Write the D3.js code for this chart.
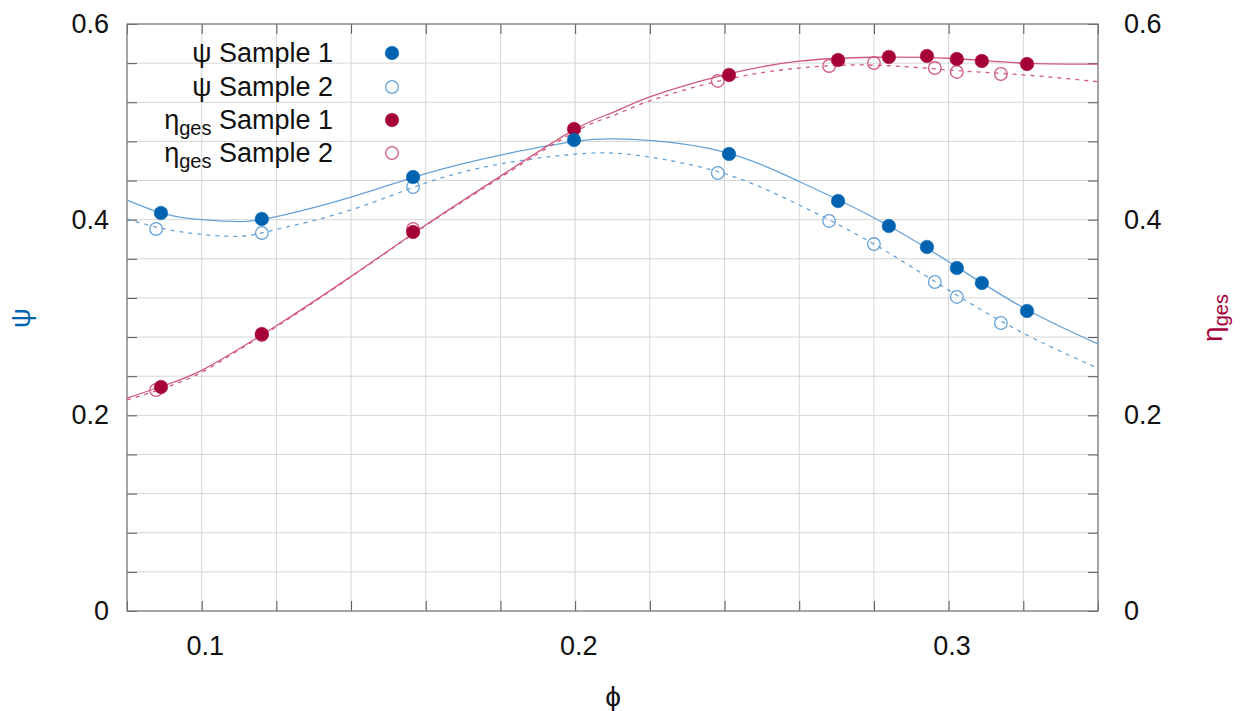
<!DOCTYPE html>
<html>
<head>
<meta charset="utf-8">
<script src="https://cdn.jsdelivr.net/npm/d3@7"></script>
<style>
  body { margin: 0; background: #fff; }
  svg { font-family: "Liberation Sans", Arial, sans-serif; }
  .grid line { stroke: #d6d6d6; stroke-width: 1; }
  .ticks line { stroke: #555; stroke-width: 1; }
  .ticks path, .labels path { display: none; }
  .labels text { font-size: 27px; fill: #111; }
  .labels line { display: none; }
</style>
</head>
<body>
<script>
(function(){

    //measured points (phi, value)
    var psi1X = [0.0891, 0.1161, 0.1566, 0.1997, 0.2412, 0.2704, 0.2840, 0.2942, 0.3022, 0.3089, 0.3210];
    var psi1Y = [0.4068, 0.4007, 0.4436, 0.4814, 0.4671, 0.4191, 0.3935, 0.3721, 0.3506, 0.3353, 0.3067];
    var psi2X = [0.0878, 0.1161, 0.1566, 0.2382, 0.2680, 0.2800, 0.2963, 0.3022, 0.3140];
    var psi2Y = [0.3905, 0.3864, 0.4334, 0.4477, 0.3987, 0.3751, 0.3363, 0.3210, 0.2944];
    var eta1X = psi1X;
    var eta1Y = [0.2290, 0.2831, 0.3874, 0.4927, 0.5479, 0.5632, 0.5663, 0.5673, 0.5642, 0.5622, 0.5591];
    var eta2X = psi2X;
    var eta2Y = [0.2259, 0.2821, 0.3905, 0.5418, 0.5571, 0.5601, 0.5550, 0.5510, 0.5489];

    //fitted curves
    var fitX = [0.08, 0.09, 0.10, 0.11, 0.12, 0.14, 0.16, 0.18, 0.20, 0.21, 0.22, 0.24, 0.26, 0.28, 0.30, 0.32, 0.34];
    var psi1Fit = [0.420, 0.406, 0.400, 0.398, 0.403, 0.423, 0.447, 0.466, 0.480, 0.4825, 0.481, 0.469, 0.439, 0.402, 0.357, 0.310, 0.273];
    var psi2Fit = [0.4007, 0.3905, 0.385, 0.383, 0.390, 0.410, 0.4375, 0.457, 0.467, 0.468, 0.464, 0.447, 0.415, 0.375, 0.328, 0.284, 0.248];
    var eta1Fit = [0.2177, 0.2305, 0.246, 0.268, 0.2915, 0.342, 0.3945, 0.4445, 0.4925, 0.5095, 0.5255, 0.548, 0.562, 0.566, 0.565, 0.560, 0.559];
    var eta2Fit = [0.2157, 0.228, 0.244, 0.267, 0.2905, 0.3415, 0.394, 0.443, 0.490, 0.506, 0.5215, 0.543, 0.555, 0.558, 0.553, 0.548, 0.541];

    //ticks
    var xGrid = [0.08, 0.10, 0.12, 0.14, 0.16, 0.18, 0.20, 0.22, 0.24, 0.26, 0.28, 0.30, 0.32, 0.34];
    var xLabels = [0.1, 0.2, 0.3];
    var yGrid = [0, 0.04, 0.08, 0.12, 0.16, 0.2, 0.24, 0.28, 0.32, 0.36, 0.4, 0.44, 0.48, 0.52, 0.56, 0.6];
    var yLabels = [0, 0.2, 0.4, 0.6];

    var legendNames = [["ψ", "", " Sample 1"], ["ψ", "", " Sample 2"], ["η", "ges", " Sample 1"], ["η", "ges", " Sample 2"]];

    var blue = "#0063b0", blueLine = "#66a3d8",
        red = "#a5003a", redLine = "#d05a80";

    var width = 1241, height = 711,
        left = 127, right = 1098, top = 24, bottom = 611;

    var svg = d3.select("body").append("svg")
        .attr("width", width)
        .attr("height", height);

    var x = d3.scaleLinear().domain([0.08, 0.34]).range([left, right]);
    var y = d3.scaleLinear().domain([0, 0.6]).range([bottom, top]);

    //grid lines
    svg.append("g").attr("class", "grid")
        .selectAll("line").data(xGrid).enter().append("line")
        .attr("x1", function(d){ return x(d); }).attr("x2", function(d){ return x(d); })
        .attr("y1", top).attr("y2", bottom);
    svg.append("g").attr("class", "grid")
        .selectAll("line").data(yGrid).enter().append("line")
        .attr("y1", function(d){ return y(d); }).attr("y2", function(d){ return y(d); })
        .attr("x1", left).attr("x2", right);

    //inward tick marks on all four sides
    svg.append("g").attr("class", "ticks").attr("transform", "translate(0," + bottom + ")")
        .call(d3.axisBottom(x).tickValues(xGrid).tickSize(-10).tickFormat(""));
    svg.append("g").attr("class", "ticks").attr("transform", "translate(0," + top + ")")
        .call(d3.axisTop(x).tickValues(xGrid).tickSize(-10).tickFormat(""));
    svg.append("g").attr("class", "ticks").attr("transform", "translate(" + left + ",0)")
        .call(d3.axisLeft(y).tickValues(yGrid).tickSize(-10).tickFormat(""));
    svg.append("g").attr("class", "ticks").attr("transform", "translate(" + right + ",0)")
        .call(d3.axisRight(y).tickValues(yGrid).tickSize(-10).tickFormat(""));

    //tick labels
    var fmt = function(d){ return d === 0 ? "0" : d3.format(".1f")(d); };
    svg.append("g").attr("class", "labels").attr("transform", "translate(3," + (bottom + 22) + ")")
        .call(d3.axisBottom(x).tickValues(xLabels).tickSize(0).tickFormat(fmt));
    svg.append("g").attr("class", "labels").attr("transform", "translate(" + (left - 15) + ",0)")
        .call(d3.axisLeft(y).tickValues(yLabels).tickSize(0).tickFormat(fmt));
    svg.append("g").attr("class", "labels").attr("transform", "translate(" + (right + 23) + ",0)")
        .call(d3.axisRight(y).tickValues(yLabels).tickSize(0).tickFormat(fmt));

    //frame
    svg.append("rect")
        .attr("x", left).attr("y", top)
        .attr("width", right - left).attr("height", bottom - top)
        .style("fill", "none").style("stroke", "#808080").style("stroke-width", 1.3);

    //fitted curves
    var line = d3.line()
        .x(function(d){ return x(d[0]); })
        .y(function(d){ return y(d[1]); })
        .curve(d3.curveNatural);

    function drawFit(vals, color, dashed){
        svg.append("path")
            .datum(d3.zip(fitX, vals))
            .attr("d", line)
            .style("fill", "none")
            .style("stroke", color)
            .style("stroke-width", 1.3)
            .style("stroke-dasharray", dashed ? "4,5" : null);
    }
    drawFit(psi1Fit, blueLine, false);
    drawFit(psi2Fit, blueLine, true);
    drawFit(eta1Fit, redLine, false);
    drawFit(eta2Fit, redLine, true);

    //markers
    function drawPoints(xs, ys, color, filled){
        svg.append("g").selectAll("circle")
            .data(d3.zip(xs, ys)).enter().append("circle")
            .attr("cx", function(d){ return x(d[0]); })
            .attr("cy", function(d){ return y(d[1]); })
            .attr("r", filled ? 6.8 : 6.3)
            .style("fill", filled ? color : "none")
            .style("stroke", color)
            .style("stroke-width", filled ? 0.5 : 1.3);
    }
    drawPoints(eta2X, eta2Y, redLine, false);
    drawPoints(eta1X, eta1Y, red, true);
    drawPoints(psi2X, psi2Y, blueLine, false);
    drawPoints(psi1X, psi1Y, blue, true);

    //legend
    var legendStyle = [[blue, true], [blueLine, false], [red, true], [redLine, false]];
    var legendY = [53, 87, 120, 153];
    legendNames.forEach(function(n, i){
        var t = svg.append("text")
            .attr("x", 333).attr("y", legendY[i] + 9)
            .attr("text-anchor", "end")
            .style("font-size", "27px").style("fill", "#111");
        t.append("tspan").text(n[0]);
        if (n[1]) {
            t.append("tspan").attr("dy", 6).style("font-size", "20px").text(n[1]);
            t.append("tspan").attr("dy", -6).text(n[2]);
        } else {
            t.append("tspan").text(n[2]);
        }
        svg.append("circle")
            .attr("cx", 392).attr("cy", legendY[i])
            .attr("r", legendStyle[i][1] ? 6.8 : 6.3)
            .style("fill", legendStyle[i][1] ? legendStyle[i][0] : "none")
            .style("stroke", legendStyle[i][0])
            .style("stroke-width", legendStyle[i][1] ? 0.5 : 1.3);
    });

    //axis titles
    svg.append("text")
        .attr("transform", "translate(30,318) rotate(-90)")
        .attr("text-anchor", "middle")
        .style("font-size", "28px").style("fill", blue)
        .text("ψ");
    var et = svg.append("text")
        .attr("transform", "translate(1222,318) rotate(-90)")
        .attr("text-anchor", "middle")
        .style("font-size", "28px").style("fill", red);
    et.append("tspan").text("η");
    et.append("tspan").attr("dy", 6).style("font-size", "20px").text("ges");
    svg.append("text")
        .attr("x", 613).attr("y", 706)
        .attr("text-anchor", "middle")
        .style("font-size", "28px").style("fill", "#111")
        .text("ϕ");

})();
</script>
</body>
</html>
